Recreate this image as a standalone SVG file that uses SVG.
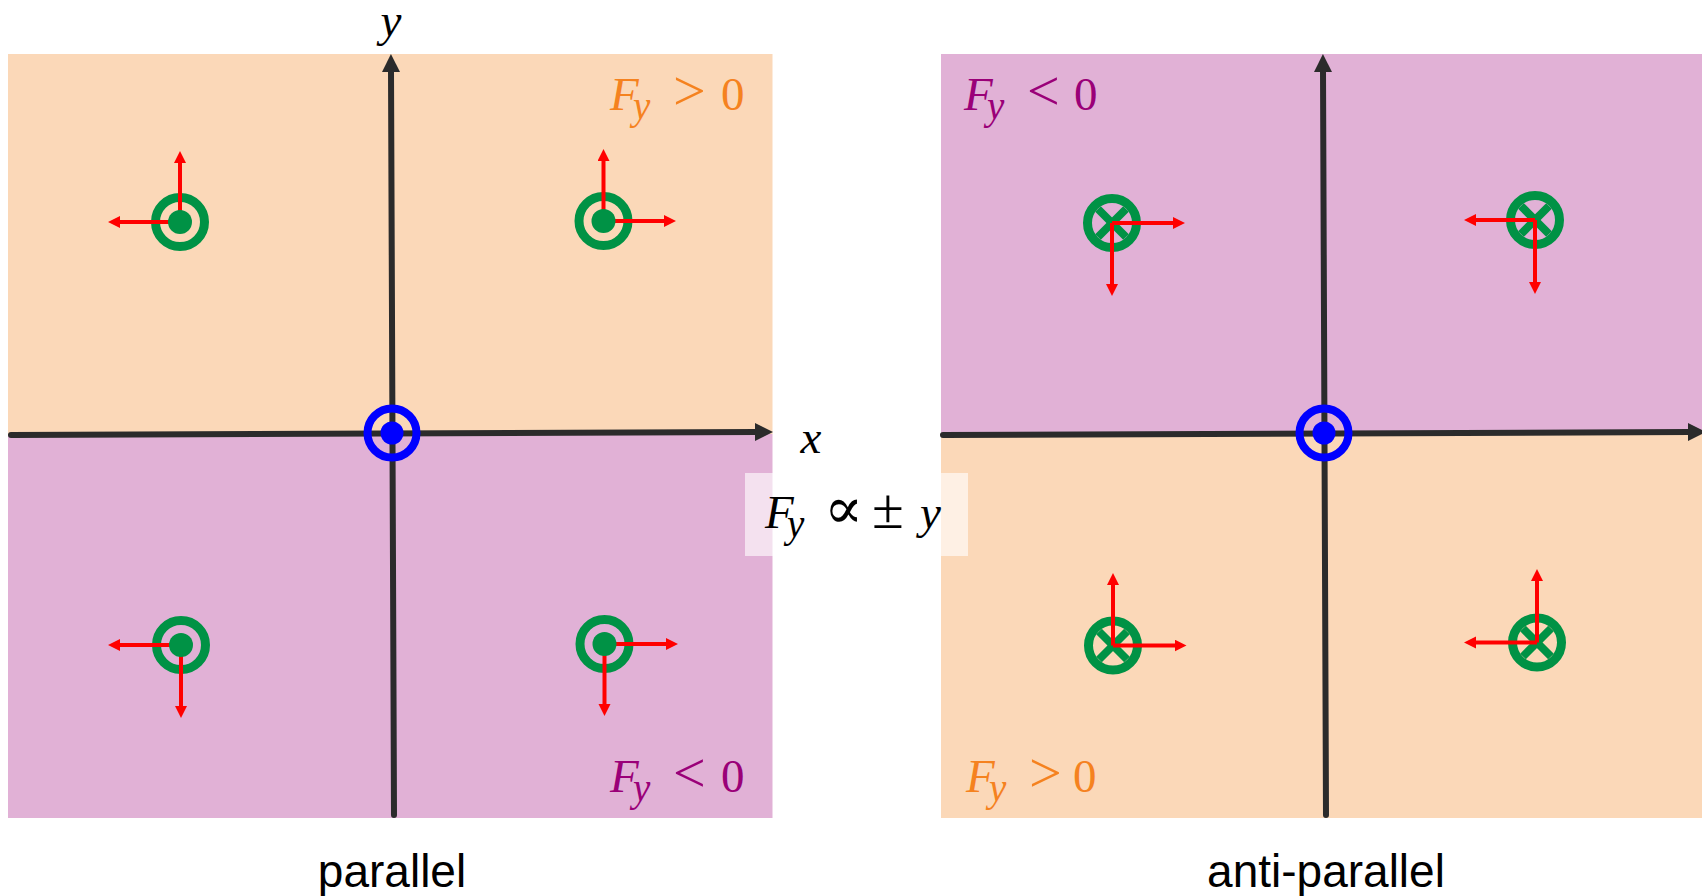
<svg xmlns="http://www.w3.org/2000/svg" width="1702" height="896" viewBox="0 0 1702 896">
  <style>
    .orangebg { fill: #FBD8B8; }
    .purplebg { fill: #E1B1D6; }
    .axis { stroke: #2B2B2B; stroke-width: 6; stroke-linecap: round; fill: none; }
    .force { stroke: #FF0000; stroke-width: 4; fill: none; }
    .ring { fill: none; stroke: #009245; stroke-width: 9; }
    .dot { fill: #009245; }
    .cross { stroke: #009245; stroke-width: 8; }
    .bring { fill: none; stroke: #0000FF; stroke-width: 8; }
    .bdot { fill: #0000FF; }
    .math { font-family: "Liberation Serif", "DejaVu Serif", serif; font-size: 47px; }
    .it { font-style: italic; }
    .sub { font-size: 39px; font-style: italic; }
    .opg { font-size: 58px; }
    .op { text-anchor: middle; }
    .orange { fill: #F5821F; }
    .purple { fill: #9A0078; }
    .black { fill: #000000; }
    .cap { font-family: "Liberation Sans", Arial, sans-serif; font-size: 46px; fill: #000000; text-anchor: middle; }
  </style>
  <defs>
    <marker id="axhead" markerUnits="userSpaceOnUse" markerWidth="20" markerHeight="20" refX="2" refY="9" orient="auto">
      <path d="M0,0 L18,9 L0,18 z" fill="#2B2B2B"/>
    </marker>
    <marker id="fhead" markerUnits="userSpaceOnUse" markerWidth="14" markerHeight="14" refX="1" refY="6" orient="auto">
      <path d="M0,0 L12,6 L0,12 z" fill="#FF0000"/>
    </marker>
  </defs>

  <rect width="1702" height="896" fill="#FFFFFF"/>

  <!-- Panels -->
  <g id="panel-parallel">
    <rect class="orangebg" x="8" y="54" width="764.5" height="380"/>
    <rect class="purplebg" x="8" y="434" width="764.5" height="384"/>
  </g>
  <g id="panel-antiparallel">
    <rect class="purplebg" x="941" y="54" width="761" height="380"/>
    <rect class="orangebg" x="941" y="434" width="761" height="384"/>
  </g>

  <!-- Axes -->
  <g id="connectors">
    <g id="axes">
      <line class="axis" x1="11" y1="435" x2="757" y2="432" marker-end="url(#axhead)"/>
      <line class="axis" x1="394" y1="815" x2="391" y2="70" marker-end="url(#axhead)"/>
      <line class="axis" x1="943" y1="435" x2="1690" y2="432" marker-end="url(#axhead)"/>
      <line class="axis" x1="1326" y1="815" x2="1323" y2="70" marker-end="url(#axhead)"/>
    </g>
  </g>

  <!-- Central wires (blue, out of page) -->
  <g id="wire-center-left">
    <circle class="bring" cx="392" cy="433" r="24.5"/>
    <circle class="bdot" cx="392" cy="433" r="11.5"/>
  </g>
  <g id="wire-center-right">
    <circle class="bring" cx="1324" cy="433" r="24.5"/>
    <circle class="bdot" cx="1324" cy="433" r="11.5"/>
  </g>

  <!-- Parallel wires (out of page) -->
  <g id="wire-p-tl">
    <circle class="ring" cx="180" cy="222" r="24.5"/>
    <line class="force" x1="180" y1="222" x2="180" y2="162" marker-end="url(#fhead)"/>
    <line class="force" x1="180" y1="222" x2="119" y2="222" marker-end="url(#fhead)"/>
    <circle class="dot" cx="180" cy="222" r="12"/>
  </g>
  <g id="wire-p-tr">
    <circle class="ring" cx="603.5" cy="221" r="24.5"/>
    <line class="force" x1="603.5" y1="221" x2="603.5" y2="160" marker-end="url(#fhead)"/>
    <line class="force" x1="603.5" y1="221" x2="665" y2="221" marker-end="url(#fhead)"/>
    <circle class="dot" cx="603.5" cy="221" r="12"/>
  </g>
  <g id="wire-p-bl">
    <circle class="ring" cx="181" cy="645" r="24.5"/>
    <line class="force" x1="181" y1="645" x2="181" y2="707" marker-end="url(#fhead)"/>
    <line class="force" x1="181" y1="645" x2="119" y2="645" marker-end="url(#fhead)"/>
    <circle class="dot" cx="181" cy="645" r="12"/>
  </g>
  <g id="wire-p-br">
    <circle class="ring" cx="604.5" cy="644" r="24.5"/>
    <line class="force" x1="604.5" y1="644" x2="604.5" y2="705" marker-end="url(#fhead)"/>
    <line class="force" x1="604.5" y1="644" x2="667" y2="644" marker-end="url(#fhead)"/>
    <circle class="dot" cx="604.5" cy="644" r="12"/>
  </g>

  <!-- Anti-parallel wires (into page) -->
  <g id="wire-a-tl">
    <circle class="ring" cx="1112" cy="223" r="24.5"/>
    <line class="cross" x1="1098" y1="209" x2="1126" y2="237"/>
    <line class="cross" x1="1126" y1="209" x2="1098" y2="237"/>
    <line class="force" x1="1112" y1="223" x2="1174" y2="223" marker-end="url(#fhead)"/>
    <line class="force" x1="1112" y1="223" x2="1112" y2="285" marker-end="url(#fhead)"/>
  </g>
  <g id="wire-a-tr">
    <circle class="ring" cx="1535" cy="220" r="24.5"/>
    <line class="cross" x1="1521" y1="206" x2="1549" y2="234"/>
    <line class="cross" x1="1549" y1="206" x2="1521" y2="234"/>
    <line class="force" x1="1535" y1="220" x2="1475" y2="220" marker-end="url(#fhead)"/>
    <line class="force" x1="1535" y1="220" x2="1535" y2="283" marker-end="url(#fhead)"/>
  </g>
  <g id="wire-a-bl">
    <circle class="ring" cx="1113" cy="645.5" r="24.5"/>
    <line class="cross" x1="1099" y1="631.5" x2="1127" y2="659.5"/>
    <line class="cross" x1="1127" y1="631.5" x2="1099" y2="659.5"/>
    <line class="force" x1="1113" y1="645.5" x2="1113" y2="584" marker-end="url(#fhead)"/>
    <line class="force" x1="1113" y1="645.5" x2="1175.5" y2="645.5" marker-end="url(#fhead)"/>
  </g>
  <g id="wire-a-br">
    <circle class="ring" cx="1537" cy="642.5" r="24.5"/>
    <line class="cross" x1="1523" y1="628.5" x2="1551" y2="656.5"/>
    <line class="cross" x1="1551" y1="628.5" x2="1523" y2="656.5"/>
    <line class="force" x1="1537" y1="642.5" x2="1475" y2="642.5" marker-end="url(#fhead)"/>
    <line class="force" x1="1537" y1="642.5" x2="1537" y2="580" marker-end="url(#fhead)"/>
  </g>

  <!-- Axis labels -->
  <g id="label-y" class="math black">
    <text class="it op" x="391" y="36">y</text>
  </g>
  <g id="label-x" class="math black">
    <text class="it op" x="811" y="453">x</text>
  </g>

  <!-- Region labels -->
  <g id="label-p-top" class="math orange">
    <text><tspan class="it" x="610" y="110">F</tspan><tspan class="sub" x="633" y="119">y</tspan><tspan class="opg" x="673" y="110">&gt;</tspan><tspan x="721" y="110">0</tspan></text>
  </g>
  <g id="label-p-bottom" class="math purple">
    <text><tspan class="it" x="610" y="792">F</tspan><tspan class="sub" x="633" y="801">y</tspan><tspan class="opg" x="673" y="792">&lt;</tspan><tspan x="721" y="792">0</tspan></text>
  </g>
  <g id="label-a-top" class="math purple">
    <text><tspan class="it" x="964" y="110">F</tspan><tspan class="sub" x="987" y="119">y</tspan><tspan class="opg" x="1027" y="110">&lt;</tspan><tspan x="1074" y="110">0</tspan></text>
  </g>
  <g id="label-a-bottom" class="math orange">
    <text><tspan class="it" x="966" y="792">F</tspan><tspan class="sub" x="989" y="801">y</tspan><tspan class="opg" x="1029" y="792">&gt;</tspan><tspan x="1073" y="792">0</tspan></text>
  </g>

  <!-- Central formula -->
  <g id="formula">
    <rect x="745" y="473" width="223" height="83" fill="#FFFFFF" fill-opacity="0.62"/>
    <text class="math black"><tspan class="it" x="765" y="528">F</tspan><tspan class="sub" x="787" y="537">y</tspan><tspan class="opg" x="824" y="528">∝</tspan><tspan class="opg" x="872" y="528">±</tspan><tspan class="it" x="920" y="528">y</tspan></text>
  </g>

  <!-- Captions -->
  <g id="caption-parallel">
    <text class="cap" x="392" y="887">parallel</text>
  </g>
  <g id="caption-antiparallel">
    <text class="cap" x="1326" y="887">anti-parallel</text>
  </g>
</svg>
